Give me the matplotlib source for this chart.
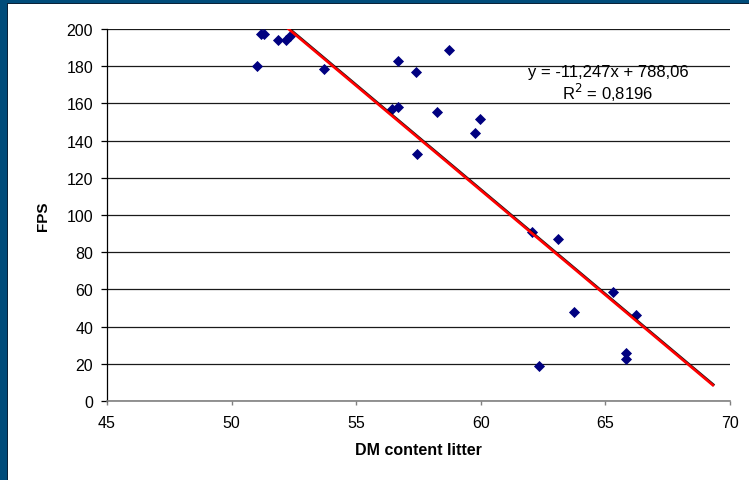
import matplotlib
matplotlib.use("Agg")
import matplotlib.pyplot as plt
import matplotlib.patheffects as pe
from matplotlib.patches import Rectangle
import numpy as np

plt.rcParams["font.family"] = ["Liberation Sans", "DejaVu Sans"]

# values
dm_content = [51.0, 51.18, 51.31, 51.85, 52.17, 52.34, 53.70, 56.66, 57.39, 58.74,
              56.43, 56.68, 58.23, 59.95, 59.77, 57.44,
              62.07, 63.10, 65.29, 63.74, 66.24, 65.83, 65.83, 62.32]
fps = [180.0, 197.5, 197.5, 194.1, 194.0, 196.0, 178.5, 182.8, 176.7, 188.9,
       157.0, 158.1, 155.4, 151.4, 143.9, 132.6,
       90.7, 87.1, 58.4, 47.7, 46.4, 25.8, 22.6, 18.8]

# linear trendline as given in the chart
slope = -11.247
intercept = 788.06
r_squared = "0,8196"
trend_x_range = [51.0, 69.35]

x_ticks = [45, 50, 55, 60, 65, 70]
y_ticks = [0, 20, 40, 60, 80, 100, 120, 140, 160, 180, 200]

W, H = 749, 481
fig = plt.figure(figsize=(W / 100, H / 100), dpi=100)
fig.patch.set_facecolor("white")

# blue slide frame on the left and top edges
frame = "#004C7A"
fig.patches.append(Rectangle((0, 0), 7 / W, 1, transform=fig.transFigure,
                             facecolor=frame, edgecolor="none", zorder=0))
fig.patches.append(Rectangle((0, 1 - 4 / H), 1, 4 / H, transform=fig.transFigure,
                             facecolor=frame, edgecolor="none", zorder=0))
fig.patches.append(Rectangle((7 / W, 0), 1.2 / W, 1 - 4 / H, transform=fig.transFigure,
                             facecolor="#0b2238", edgecolor="none", zorder=0))
fig.patches.append(Rectangle((7 / W, 1 - 5.2 / H), 1 - 7 / W, 1.2 / H, transform=fig.transFigure,
                             facecolor="#0b2238", edgecolor="none", zorder=0))

ax = fig.add_axes([107 / W, 1 - 402 / H, (730 - 107) / W, (402 - 30) / H])
ax.set_facecolor("none")

ax.set_xlim(45, 70)
ax.set_ylim(0, 200)
ax.set_xticks(x_ticks)
ax.set_yticks(y_ticks)

ax.yaxis.grid(True, color="#1a1a1a", linewidth=0.9)
ax.set_axisbelow(True)

for side in ("top", "right"):
    ax.spines[side].set_visible(False)
ax.spines["left"].set_color("black")
ax.spines["left"].set_linewidth(0.9)
ax.spines["bottom"].set_color("#808080")
ax.spines["bottom"].set_linewidth(1.2)

ax.tick_params(axis="y", direction="out", length=4, width=0.9, color="black",
               labelsize=11.5, pad=6)
ax.tick_params(axis="x", direction="out", length=3, width=1.0, color="#808080",
               labelsize=11.5, pad=7)

ax.scatter(dm_content, fps, marker="D", s=32, color="#000080", zorder=3, linewidths=0)

tx = np.array(trend_x_range)
ax.plot(tx, slope * tx + intercept, color="#ff0000", linewidth=1.9, zorder=4,
        solid_capstyle="butt",
        path_effects=[pe.SimpleLineShadow(offset=(0.35, 0.35), shadow_color="black",
                                          alpha=0.9), pe.Normal()])

eq = f"y = {slope:.3f}x + {intercept:.2f}".replace(".", ",")
ax.text(608, H - 73, eq, transform=None, fontsize=12, ha="center", va="center")
ax.text(608, H - 93, f"R$^2$ = {r_squared}", fontsize=12, ha="center", va="center",
        transform=None)

ax.set_xlabel("DM content litter", fontsize=11.5, fontweight="bold", labelpad=9)
ax.set_ylabel("FPS", fontsize=11, fontweight="bold", labelpad=12)

fig.savefig("out.png", dpi=100)
